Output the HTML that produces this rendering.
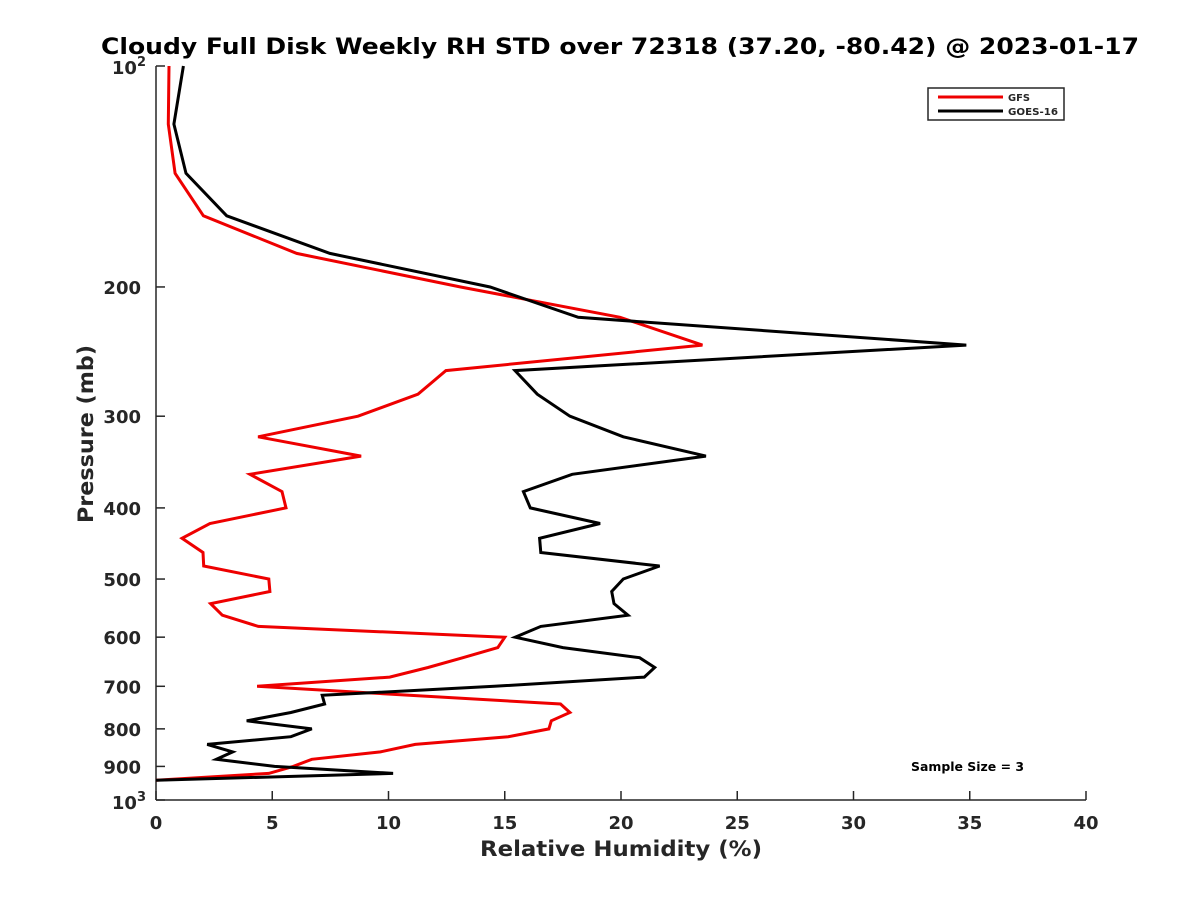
<!DOCTYPE html>
<html><head><meta charset="utf-8"><style>
body{margin:0;background:#fff;}
svg text{font-family:"DejaVu Sans","Liberation Sans",sans-serif;font-weight:bold;fill:#262626;}
</style></head><body>
<svg id="chart" width="1200" height="900" viewBox="0 0 1200 900" xmlns="http://www.w3.org/2000/svg">
<rect width="1200" height="900" fill="#fff"/>
<text x="101" y="54" font-size="22" textLength="1038" lengthAdjust="spacingAndGlyphs" style="fill:#000">Cloudy Full Disk Weekly RH STD over 72318 (37.20, -80.42) @ 2023-01-17</text>
<g id="axes"></g>
<g id="series"></g>
<g>
<rect x="928" y="88" width="136" height="32" fill="#fff" stroke="#262626" stroke-width="1.5"/>
<line x1="938" y1="97" x2="1003" y2="97" stroke="#ee0000" stroke-width="3"/>
<text x="1008" y="101" font-size="10" textLength="22" lengthAdjust="spacingAndGlyphs">GFS</text>
<line x1="938" y1="111" x2="1003" y2="111" stroke="#000" stroke-width="3"/>
<text x="1008" y="115" font-size="10" textLength="50" lengthAdjust="spacingAndGlyphs">GOES-16</text>
</g>
<text x="911" y="771" font-size="12" textLength="113" lengthAdjust="spacingAndGlyphs" style="fill:#000">Sample Size = 3</text>
<text x="480" y="856" font-size="21" textLength="282" lengthAdjust="spacingAndGlyphs">Relative Humidity (%)</text>
<text transform="translate(93,523) rotate(-90)" font-size="21" textLength="178" lengthAdjust="spacingAndGlyphs">Pressure (mb)</text>
</svg>
<script>
const pressures = [100,120,140,160,180,200,220,240,260,280,300,320,340,360,380,400,420,440,460,480,500,520,540,560,580,600,620,640,660,680,700,720,740,760,780,800,820,840,860,880,900,920,940];
const gfsValues = [0.56,0.53,0.82,2.04,6.05,13.1,19.96,23.5,12.47,11.27,8.69,4.39,8.82,4.04,5.42,5.59,2.32,1.12,2.02,2.05,4.85,4.9,2.35,2.85,4.4,15.0,14.7,13.2,11.7,10.05,4.35,10.9,17.4,17.8,17.0,16.9,15.15,11.15,9.65,6.7,5.9,4.85,0];
const goesValues = [1.18,0.77,1.29,3.04,7.48,14.37,18.16,34.85,15.44,16.4,17.8,20.1,23.65,17.9,15.8,16.1,19.1,16.5,16.55,21.66,20.1,19.6,19.7,20.3,16.55,15.45,17.5,20.8,21.45,21.0,14.55,7.15,7.25,5.8,3.9,6.7,5.8,2.2,3.3,2.6,5.1,10.2,0];
const xTicks = [0,5,10,15,20,25,30,35,40];
const yTicks = [200,300,400,500,600,700,800,900];

const NS = "http://www.w3.org/2000/svg";
const X0 = 156, X1 = 1086, Y0 = 66, Y1 = 800;
function xs(v){ return X0 + (v/40)*(X1-X0); }
function ys(p){ return Y0 + (Math.log10(p)-2)*(Y1-Y0); }
function mk(tag, attrs, parent){ const e=document.createElementNS(NS,tag); for(const k in attrs) e.setAttribute(k,attrs[k]); parent.appendChild(e); return e; }

const axes = document.getElementById('axes');
const ax = mk('g',{},axes);


const yl = mk('line',{x1:X0,y1:Y0,x2:X0,y2:Y1,stroke:'#262626','stroke-width':1.5},ax);


const xl = mk('line',{x1:X0,y1:Y1,x2:X1,y2:Y1,stroke:'#262626','stroke-width':1.5},ax);


xTicks.forEach(v=>{
  const x=xs(v);
  mk('line',{x1:x,y1:Y1,x2:x,y2:Y1-9,stroke:'#262626','stroke-width':1.5},ax);
  const t=mk('text',{x:x,y:Y1+29,'text-anchor':'middle','font-size':18},ax);
  t.textContent=v;
  
  
});
[100,1000].concat(yTicks).forEach(p=>{
  const y=ys(p);
  mk('line',{x1:X0,y1:y,x2:X0+9,y2:y,stroke:'#262626','stroke-width':1.5},ax);
});
yTicks.forEach(p=>{
  const t=mk('text',{x:141,y:ys(p)+7,'text-anchor':'end','font-size':18},ax);
  t.textContent=p;
  
  
});
[[100,'2'],[1000,'3']].forEach(([p,e])=>{
  const t=mk('text',{x:146,y:ys(p)+(p===100?8:9),'text-anchor':'end','font-size':18},ax);
  t.innerHTML='10<tspan dy="-8" font-size="13">'+e+'</tspan>';
  
  
});

const series = document.getElementById('series');
function drawLine(vals,color,name){
  const pts = vals.map((v,i)=>xs(v).toFixed(1)+','+ys(pressures[i]).toFixed(1)).join(' ');
  const pl = mk('polyline',{points:pts,fill:'none',stroke:color,'stroke-width':3,'stroke-linejoin':'miter'},series);
  
  
}
drawLine(gfsValues,'#ee0000','gfs-line');
drawLine(goesValues,'#000000','goes16-line');
</script>
</body></html>
